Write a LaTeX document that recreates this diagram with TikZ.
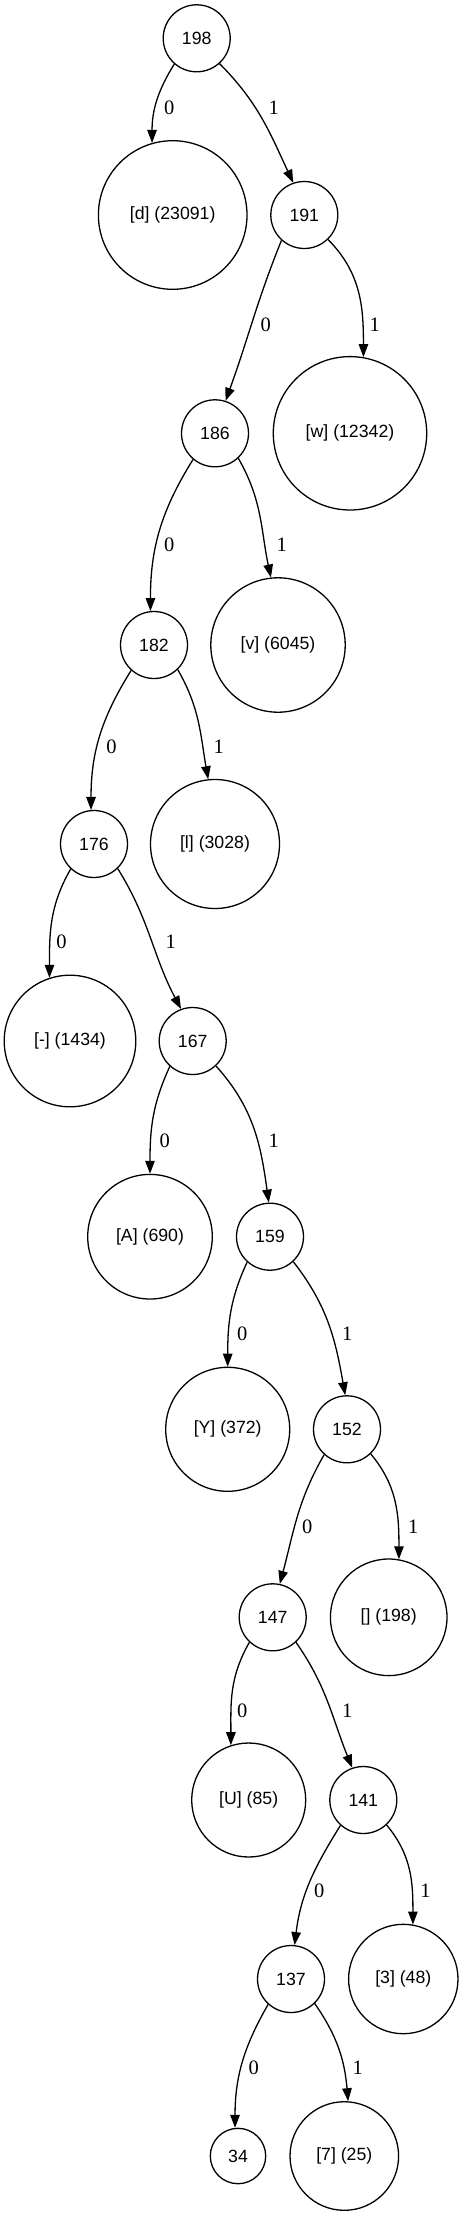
\documentclass[tikz,border=0pt]{standalone}
\usepackage{fontspec}
\setmainfont{Liberation Sans}
\newfontfamily\labelfont{Liberation Serif}
\usetikzlibrary{arrows.meta}
\tikzset{
	inner/.style={shape=circle, draw, line width=1.3pt, minimum size=67pt, inner sep=0pt, font=\fontsize{17.7}{20}\selectfont},
	leaf/.style={shape=circle, draw, line width=1.3pt, inner sep=0pt, font=\fontsize{17.7}{20}\selectfont},
	edge/.style={line width=1.3pt, -{Triangle[length=13pt, width=9.5pt]}},
	bit/.style={font=\labelfont\fontsize{20.5}{22}\selectfont, inner sep=0pt, xshift=1.5pt, yshift=-2pt},
}
\begin{document}
\begin{tikzpicture}[x=1pt, y=-1pt]
	\useasboundingbox (0,0) rectangle (464,2216);
	% nodes
	\node[inner](n198) at (196.7, 38.3){198};
	\node[leaf, minimum size=148.6pt](d) at (172.7, 215){[d] (23091)};
	\node[inner](n191) at (304.3, 215){191};
	\node[inner](n186) at (215, 433.3){186};
	\node[leaf, minimum size=153.4pt](w) at (350, 433.3){[w] (12342)};
	\node[inner](n182) at (154, 645){182};
	\node[leaf, minimum size=134.4pt](v) at (278, 645){[v] (6045)};
	\node[inner](n176) at (94, 844){176};
	\node[leaf, minimum size=129pt](l) at (215, 844){[l] (3028)};
	\node[leaf, minimum size=131.6pt](dash) at (70, 1041){[-] (1434)};
	\node[inner](n167) at (192.7, 1041){167};
	\node[leaf, minimum size=124.6pt](A) at (150, 1236.7){[A] (690)};
	\node[inner](n159) at (270, 1236.7){159};
	\node[leaf, minimum size=124pt](Y) at (227.7, 1429.3){[Y] (372)};
	\node[inner](n152) at (347, 1429.3){152};
	\node[inner](n147) at (272.7, 1617.3){147};
	\node[leaf, minimum size=116.6pt](brk) at (388.7, 1617.3){[] (198)};
	\node[leaf, minimum size=114pt](U) at (248.7, 1800){[U] (85)};
	\node[inner](n141) at (363.3, 1800){141};
	\node[inner](n137) at (291, 1979){137};
	\node[leaf, minimum size=109.4pt](three) at (403.3, 1979){[3] (48)};
	\node[leaf, minimum size=55.4pt](n34) at (238, 2156){34};
	\node[leaf, minimum size=108.6pt](seven) at (344.3, 2156){[7] (25)};
	% connectors
	\draw[edge] (n198.-131) to[out=-122, in=90] (d.106);
	\draw[edge] (n198.-48) to[out=-45, in=115] (n191.109);
	\draw[edge] (n191.-132) to[out=-112, in=70] (n186.72);
	\draw[edge] (n191.-46) to[out=-45, in=90] (w.80);
	\draw[edge] (n186.-130) to[out=-122, in=90] (n182.96);
	\draw[edge] (n186.-47) to[out=-60, in=102] (v.96);
	\draw[edge] (n182.-132) to[out=-122, in=90] (n176.95);
	\draw[edge] (n182.-46) to[out=-60, in=100] (l.96);
	\draw[edge] (n176.-133) to[out=-120, in=90] (dash.108);
	\draw[edge] (n176.-46) to[out=-58, in=118] (n167.110);
	\draw[edge] (n167.-132) to[out=-115, in=90] (A.90);
	\draw[edge] (n167.-47) to[out=-48, in=98] (n159.92);
	\draw[edge] (n159.-132) to[out=-115, in=90] (Y.90);
	\draw[edge] (n159.-47) to[out=-52, in=100] (n152.93);
	\draw[edge] (n152.-132) to[out=-120, in=75] (n147.78);
	\draw[edge] (n152.-46) to[out=-50, in=90] (brk.80);
	\draw[edge] (n147.-133) to[out=-120, in=90] (U.108);
	\draw[edge] (n147.-47) to[out=-55, in=112] (n141.109);
	\draw[edge] (n141.-132) to[out=-122, in=83] (n137.84);
	\draw[edge] (n141.-47) to[out=-50, in=90] (three.80);
	\draw[edge] (n137.-132) to[out=-120, in=90] (n34.96);
	\draw[edge] (n137.-46) to[out=-55, in=95] (seven.86);
	% bit labels
	\node[bit](b1) at (167.7, 105.7){0};
	\node[bit](b2) at (272.3, 105.7){1};
	\node[bit](b3) at (264.3, 322.3){0};
	\node[bit](b4) at (373.3, 322.3){1};
	\node[bit](b5) at (167.7, 542.7){0};
	\node[bit](b6) at (280.3, 542.7){1};
	\node[bit](b7) at (110, 744.3){0};
	\node[bit](b8) at (217.3, 744.3){1};
	\node[bit](b9) at (60, 940){0};
	\node[bit](b10) at (169.3, 940){1};
	\node[bit](b11) at (163.3, 1138.3){0};
	\node[bit](b12) at (272.3, 1138.3){1};
	\node[bit](b13) at (240.7, 1331.7){0};
	\node[bit](b14) at (345.7, 1331.7){1};
	\node[bit](b15) at (305.7, 1524.3){0};
	\node[bit](b16) at (411.7, 1524.3){1};
	\node[bit](b17) at (240.7, 1708.7){0};
	\node[bit](b18) at (345.7, 1708.7){1};
	\node[bit](b19) at (317.7, 1888.3){0};
	\node[bit](b20) at (424, 1888.3){1};
	\node[bit](b21) at (252.3, 2066){0};
	\node[bit](b22) at (356.3, 2066){1};
\end{tikzpicture}
\end{document}
